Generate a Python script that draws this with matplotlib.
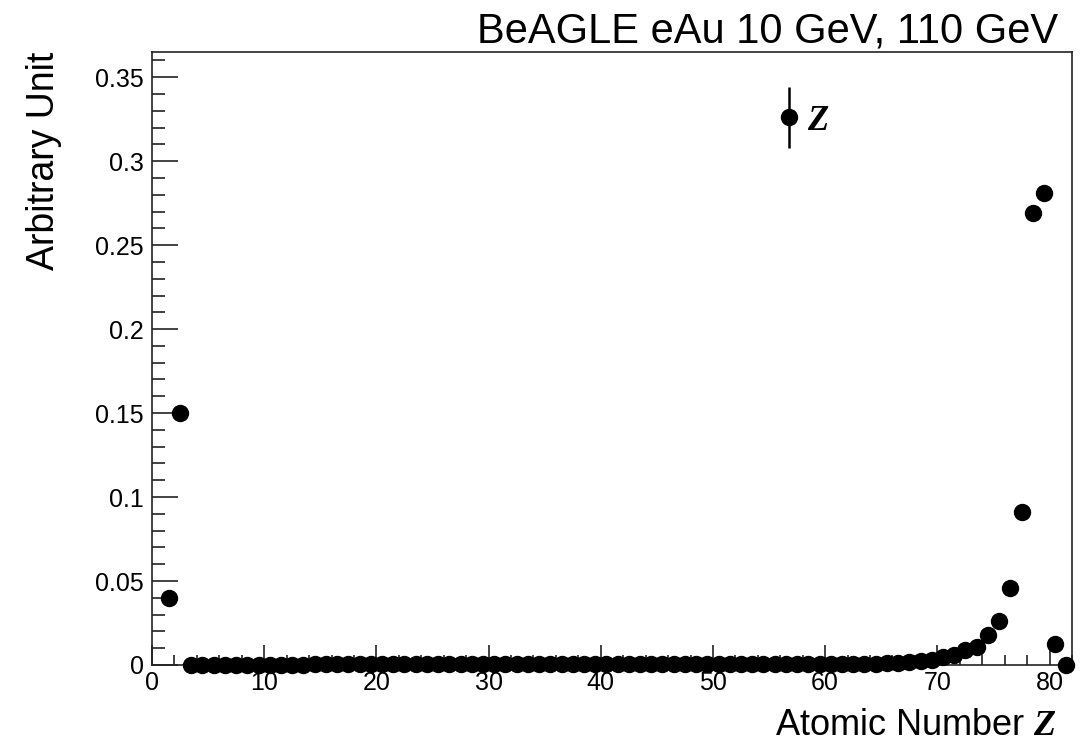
import numpy as np
import matplotlib
matplotlib.use('Agg')
from matplotlib import pyplot as plt
from matplotlib.ticker import MultipleLocator
from matplotlib.container import ErrorbarContainer
from matplotlib.legend_handler import HandlerErrorbar

plt.rcParams['font.family'] = ['Liberation Sans', 'DejaVu Sans']
plt.rcParams['mathtext.fontset'] = 'custom'
plt.rcParams['mathtext.it'] = 'Liberation Serif:italic:bold'
plt.rcParams['mathtext.rm'] = 'Liberation Serif:bold'

# fragment charge Z (bins of width 1, drawn at bin centre)
atomic_number = np.arange(1, 82)
fraction = [
    0.040, 0.150,
    # Z = 3 .. 20
    0.0002, 0.0002, 0.0002, 0.0002, 0.0002, 0.0002, 0.0002, 0.0002, 0.0002,
    0.0002, 0.0002, 0.0003, 0.0003, 0.0003, 0.0003, 0.0003, 0.0003, 0.0003,
    # Z = 21 .. 45
    0.0004, 0.0004, 0.0004, 0.0004, 0.0004, 0.0005, 0.0005, 0.0005, 0.0005,
    0.0005, 0.0006, 0.0006, 0.0006, 0.0006, 0.0006, 0.0006, 0.0007, 0.0007,
    0.0007, 0.0007, 0.0006, 0.0006, 0.0006, 0.0005, 0.0005,
    # Z = 46 .. 60
    0.0004, 0.0004, 0.0004, 0.0003, 0.0003, 0.0003, 0.0003, 0.0003, 0.0003,
    0.0003, 0.0003, 0.0003, 0.0003, 0.0003, 0.0003,
    # Z = 61 .. 81
    0.0004, 0.0005, 0.0006, 0.0008, 0.0010, 0.0013, 0.0017, 0.0022,
    0.003, 0.005, 0.006, 0.009, 0.011, 0.018, 0.026, 0.046, 0.091,
    0.269, 0.281, 0.0125, 0.0,
]
stat_err = np.zeros(len(fraction))

fig = plt.figure(figsize=(10.86, 7.47), dpi=100)
ax = fig.add_axes([152 / 1086, 82 / 747, 920 / 1086, 613 / 747])

eb = ax.errorbar(atomic_number + 0.5, fraction, yerr=stat_err, fmt='o',
                 color='black', markersize=11.5, elinewidth=1.8,
                 capsize=0, label='$Z$', clip_on=False, zorder=5)
for art in eb.lines[2]:
    art.set_clip_on(False)

ax.set_xlim(0, 82)
ax.set_ylim(0, 0.365)

ax.xaxis.set_major_locator(MultipleLocator(10))
ax.xaxis.set_minor_locator(MultipleLocator(2))
ax.yaxis.set_major_locator(MultipleLocator(0.05))
ax.yaxis.set_minor_locator(MultipleLocator(0.01))
ax.yaxis.set_major_formatter(lambda v, p: ('%g' % round(v, 3)))

ax.tick_params(axis='both', which='both', direction='in', top=False,
               right=False, labelsize=18, width=1.2, color='#222222')
ax.tick_params(axis='x', which='major', length=14.5, pad=4)
ax.tick_params(axis='x', which='minor', length=7.2)
ax.tick_params(axis='y', which='major', length=18.7, pad=6)
ax.tick_params(axis='y', which='minor', length=9.4)
for sp in ax.spines.values():
    sp.set_linewidth(1.2)
    sp.set_color('#222222')

ax.set_xlabel('Atomic Number $Z$', fontsize=26, ha='right')
ax.xaxis.set_label_coords((1057 - 152) / 920, -0.07)
ax.set_ylabel('Arbitrary Unit', fontsize=27, loc='top')
ax.yaxis.set_label_coords(-0.098, 1.0)

fig.text(1058 / 1086, (747 - 43) / 747, 'BeAGLE eAu 10 GeV, 110 GeV',
         fontsize=30, ha='right', va='baseline')

ax.legend(handler_map={ErrorbarContainer: HandlerErrorbar(yerr_size=0.87)},
          loc='center left', bbox_to_anchor=(0.6775, 0.889), frameon=False,
          fontsize=25, handlelength=0.8, handletextpad=0.1, borderpad=0,
          borderaxespad=0)

fig.savefig('out.png', dpi=100)
